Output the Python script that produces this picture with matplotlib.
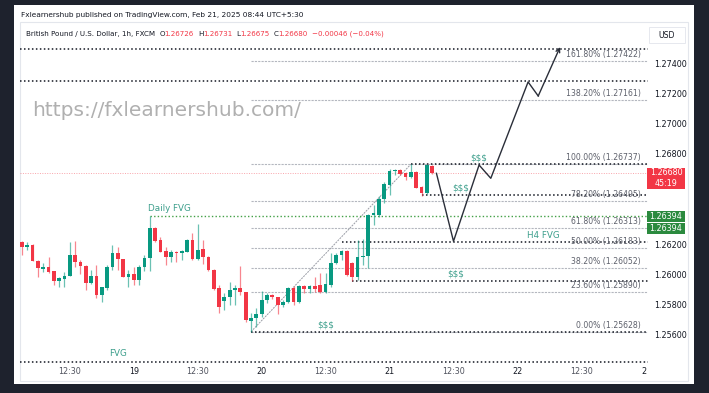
import numpy as np
import matplotlib.pyplot as plt
from matplotlib.patches import Rectangle

W, H = 709, 393

# hourly candles, bar 0 = Feb 20 00:30 (UTC+5:30)
first_bar = -45
opens = [1.26224, 1.26189, 1.26200, 1.26097, 1.26046, 1.26056, 1.26027, 1.25966, 1.25978, 1.25999,
         1.26136, 1.26090, 1.26063, 1.25949, 1.25999, 1.25871, 1.25918, 1.26055, 1.26147, 1.26110,
         1.25993, 1.26008, 1.25971, 1.26055, 1.26116, 1.26315, 1.26235, 1.26160, 1.26125, 1.26158,
         1.26150, 1.26157, 1.26236, 1.26108, 1.26174, 1.26125, 1.26040, 1.25916, 1.25832, 1.25858,
         1.25901, 1.25920, 1.25891, 1.25701, 1.25717, 1.25744, 1.25838, 1.25871, 1.25856, 1.25805,
         1.25822, 1.25916, 1.25825, 1.25931, 1.25913, 1.25928, 1.25936, 1.25891, 1.25940, 1.26081,
         1.26134, 1.26163, 1.26081, 1.25993, 1.26125, 1.26130, 1.26398, 1.26400, 1.26510, 1.26600,
         1.26689, 1.26699, 1.26676, 1.26650, 1.26688, 1.26588, 1.26545, 1.26726]
highs = [1.26229, 1.26220, 1.26207, 1.26103, 1.26081, 1.26121, 1.26032, 1.25989, 1.26026, 1.26222,
         1.26227, 1.26103, 1.26070, 1.26037, 1.26068, 1.25924, 1.26068, 1.26204, 1.26186, 1.26112,
         1.26037, 1.26055, 1.26068, 1.26134, 1.26394, 1.26320, 1.26257, 1.26192, 1.26169, 1.26165,
         1.26167, 1.26240, 1.26280, 1.26339, 1.26238, 1.26130, 1.26044, 1.25938, 1.25883, 1.25956,
         1.25938, 1.26065, 1.25893, 1.25750, 1.25785, 1.25900, 1.25883, 1.25876, 1.25860, 1.25838,
         1.25926, 1.25931, 1.25936, 1.25938, 1.25938, 1.25993, 1.26015, 1.26019, 1.26147, 1.26151,
         1.26169, 1.26169, 1.26090, 1.26236, 1.26240, 1.26408, 1.26467, 1.26527, 1.26621, 1.26704,
         1.26704, 1.26706, 1.26684, 1.26737, 1.26694, 1.26593, 1.26735, 1.26731]
lows = [1.26136, 1.26167, 1.26095, 1.25993, 1.26024, 1.26020, 1.25936, 1.25926, 1.25926, 1.25997,
        1.26059, 1.26010, 1.25905, 1.25944, 1.25850, 1.25823, 1.25905, 1.26037, 1.26037, 1.25989,
        1.25922, 1.25940, 1.25936, 1.26028, 1.26028, 1.26222, 1.26156, 1.26070, 1.26090, 1.26090,
        1.26100, 1.26154, 1.26105, 1.26103, 1.26077, 1.26030, 1.25901, 1.25750, 1.25772, 1.25805,
        1.25805, 1.25871, 1.25695, 1.25628, 1.25662, 1.25728, 1.25816, 1.25843, 1.25746, 1.25794,
        1.25816, 1.25805, 1.25820, 1.25883, 1.25887, 1.25891, 1.25887, 1.25885, 1.25922, 1.26077,
        1.26103, 1.25997, 1.25966, 1.25971, 1.26070, 1.26048, 1.26335, 1.26388, 1.26480, 1.26533,
        1.26666, 1.26666, 1.26633, 1.26644, 1.26578, 1.26530, 1.26542, 1.26675]
closes = [1.26191, 1.26200, 1.26097, 1.26047, 1.26057, 1.26026, 1.25966, 1.25981, 1.25999, 1.26136,
          1.26088, 1.26063, 1.25949, 1.25999, 1.25871, 1.25921, 1.26057, 1.26147, 1.26108, 1.25993,
          1.26008, 1.25971, 1.26059, 1.26118, 1.26315, 1.26231, 1.26158, 1.26126, 1.26156, 1.26149,
          1.26163, 1.26236, 1.26108, 1.26169, 1.26123, 1.26035, 1.25911, 1.25790, 1.25858, 1.25903,
          1.25920, 1.25891, 1.25704, 1.25722, 1.25744, 1.25838, 1.25871, 1.25856, 1.25805, 1.25823,
          1.25916, 1.25825, 1.25931, 1.25913, 1.25931, 1.25913, 1.25891, 1.25944, 1.26081, 1.26134,
          1.26163, 1.26004, 1.25989, 1.26125, 1.26130, 1.26399, 1.26411, 1.26507, 1.26606, 1.26692,
          1.26699, 1.26672, 1.26651, 1.26688, 1.26582, 1.26545, 1.26732, 1.26680]

# fibonacci retracement from the low (bar -2) to the high (bar 28)
fib_start, fib_end = -2, 28
fib_ratios = ["0.00%", "23.60%", "38.20%", "50.00%", "61.80%", "78.20%", "100.00%", "138.20%", "161.80%"]
fib_prices = [1.25628, 1.25890, 1.26052, 1.26183, 1.26313, 1.26495, 1.26737, 1.27161, 1.27422]

# black dotted liquidity levels: (start bar, price)
level_start = [-45.4, -45.4, 28, 30, 15, 17, -2, -45.4]
level_price = [1.27498, 1.27285, 1.26737, 1.26533, 1.26224, 1.25966, 1.25628, 1.25426]
daily_fvg = 1.26394
daily_fvg_start = -21

# projected path
path_x = [32.8, 36.0, 40.8, 43.0, 50.0, 51.9, 56.0]
path_y = [1.26677, 1.26227, 1.26732, 1.26644, 1.27282, 1.27189, 1.27513]

price_ticks = [1.25600, 1.25800, 1.26000, 1.26200, 1.26800, 1.27000, 1.27200, 1.27400]
time_ticks = [-36, -24, -12, 0, 12, 24, 36, 48, 60, 71.8]
time_labels = ["12:30", "19", "12:30", "20", "12:30", "21", "12:30", "22", "12:30", "2"]

GREEN = "#089981"
RED = "#f23645"
TEAL = "#3d9f8c"
INK = "#131722"

plt.rcParams['font.family'] = ['DejaVu Sans']

fig = plt.figure(figsize=(W / 100, H / 100), dpi=100)
fig.patch.set_facecolor("#1e222d")


def fbox(x0, y0, x1, y1):
    return (x0 / W, 1 - y1 / H), (x1 - x0) / W, (y1 - y0) / H


xy, w, h = fbox(14, 5, 694, 384)
fig.patches.append(Rectangle(xy, w, h, transform=fig.transFigure, facecolor="white",
                             edgecolor="none", zorder=-2))
xy, w, h = fbox(20, 22, 688, 381)
fig.patches.append(Rectangle(xy, w, h, transform=fig.transFigure, facecolor="white",
                             edgecolor="#e3e6ec", lw=0.8, zorder=-1))

ax = fig.add_axes([20 / W, 1 - 366 / H, 628 / W, 344 / H])
ax.set_zorder(2)
ax.set_xlim(-45.35, 72.5)
ax.set_ylim(1.25401, 1.27679)
ax.axis("off")
pp = (1.27679 - 1.25401) / 344  # price per pixel
xmax = ax.get_xlim()[1]

# fib lines and labels
for r, p in zip(fib_ratios, fib_prices):
    ax.hlines(p, fib_start, xmax, color="#b4b7bf", lw=0.8, linestyles=(0, (2, 1)), zorder=1)
    ax.annotate(f"{r} ({p:.5f})", (71.2, p), xytext=(0, 1.5), textcoords="offset points",
                ha="right", va="bottom", fontsize=5.6, color="#5d606b", zorder=5)
ax.plot([fib_start, fib_end], [fib_prices[0], fib_prices[6]], color="#9a9da6", lw=0.7,
        ls=(0, (2, 1)), zorder=1)

# levels
for s, p in zip(level_start, level_price):
    ax.hlines(p, s, xmax, color=INK, lw=1.1, linestyles=(0, (1, 1.6)), zorder=3)
ax.hlines(daily_fvg, daily_fvg_start, xmax, color="#43a047", lw=1.0, linestyles=(0, (1, 1.6)), zorder=3)
ax.axhline(closes[-1], color=RED, lw=0.7, ls=(0, (1, 1.5)), alpha=0.45, zorder=1)

# candles
bars = np.arange(first_bar, first_bar + len(opens))
o = np.array(opens); c = np.array(closes)
cols = np.where(c >= o, GREEN, RED)
ax.vlines(bars, lows, highs, colors=cols, lw=0.9, alpha=0.6, zorder=4)
ax.bar(bars, np.maximum(np.abs(c - o), pp), bottom=np.minimum(o, c), width=0.7,
       color=cols, edgecolor="none", zorder=4)

# projection
ax.plot(path_x[:-1], path_y[:-1], color="#2a2e39", lw=1.0, zorder=6)
ax.annotate("", xy=(path_x[-1], path_y[-1]), xytext=(path_x[-2], path_y[-2]),
            arrowprops=dict(arrowstyle="->", color="#2a2e39", lw=1.0, mutation_scale=7,
                            shrinkA=0, shrinkB=0), zorder=6)

# annotations
notes = [("$$$", 40.8, 1.26778), ("$$$", 37.4, 1.26580), ("$$$", 36.5, 1.26010),
         ("$$$", 12.05, 1.25673), ("H4 FVG", 52.8, 1.26265), ("Daily FVG", -17.4, 1.26441),
         ("FVG", -27, 1.25481)]
for s, x, y in notes:
    ax.text(x, y, s, ha="center", va="center", fontsize=6.3, color=TEAL, parse_math=False, zorder=6)

# time axis
tr = ax.get_xaxis_transform()
for t, lab in zip(time_ticks, time_labels):
    day = ":" not in lab
    ax.text(t, -6 / 344, lab, transform=tr, ha="center", va="center", fontsize=5.8,
            color=INK if day else "#50535e", clip_on=False)

# price axis
ytr = ax.get_yaxis_transform()
for p in price_ticks:
    ax.text(634 / 628, p, f"{p:.5f}", transform=ytr, ha="left", va="center", fontsize=5.8,
            color=INK, clip_on=False)


def price_box(p_top, height_px, color):
    ax.add_patch(Rectangle((627 / 628, p_top - height_px * pp), 38 / 628, height_px * pp,
                           transform=ytr, facecolor=color, edgecolor="none", clip_on=False, zorder=7))


last = closes[-1]
price_box(last + 5 * pp, 21.3, RED)
ax.text(646 / 628, last, f"{last:.5f}", transform=ytr, ha="center", va="center", fontsize=5.8,
        color="white", clip_on=False, zorder=8)
ax.text(646 / 628, last - 10.5 * pp, "45:19", transform=ytr, ha="center", va="center", fontsize=5.8,
        color="white", clip_on=False, zorder=8)
for k in range(2):
    top = daily_fvg + 5.5 * pp - k * 12 * pp
    price_box(top, 11.2, "#2b8a3e")
    ax.text(646 / 628, top - 5.6 * pp, f"{daily_fvg:.5f}", transform=ytr, ha="center", va="center",
            fontsize=5.8, color="white", clip_on=False, zorder=8)

# header
fig.text(21 / W, 1 - 15 / H, "Fxlearnershub published on TradingView.com, Feb 21, 2025 08:44 UTC+5:30",
         fontsize=5.3, color=INK, va="center")
parts = [("British Pound / U.S. Dollar, 1h, FXCM", INK, 4), ("O", INK, 0), ("1.26726", RED, 4),
         ("H", INK, 0), ("1.26731", RED, 4), ("L", INK, 0), ("1.26675", RED, 4),
         ("C", INK, 0), ("1.26680", RED, 4), ("\u22120.00046 (\u22120.04%)", RED, 0)]
renderer = fig.canvas.get_renderer()
xpos = 26
for s, col, gap in parts:
    t = fig.text(xpos / W, 1 - 34 / H, s, fontsize=5.1, color=col, va="center")
    xpos = t.get_window_extent(renderer).x1 + gap

xy, w, h = fbox(649, 27, 685, 43)
fig.patches.append(Rectangle(xy, w, h, transform=fig.transFigure, facecolor="white",
                             edgecolor="#e6e8ee", lw=0.7, zorder=2))
fig.text(667 / W, 1 - 35 / H, "USD", fontsize=5.6, color=INK, ha="center", va="center")

# watermark
fig.text(32 / W, 1 - 110 / H, "https://fxlearnershub.com/", fontsize=14.5, color="#b0b0b0",
         va="center", ha="left")

fig.savefig("out.png", dpi=100, facecolor=fig.get_facecolor())
